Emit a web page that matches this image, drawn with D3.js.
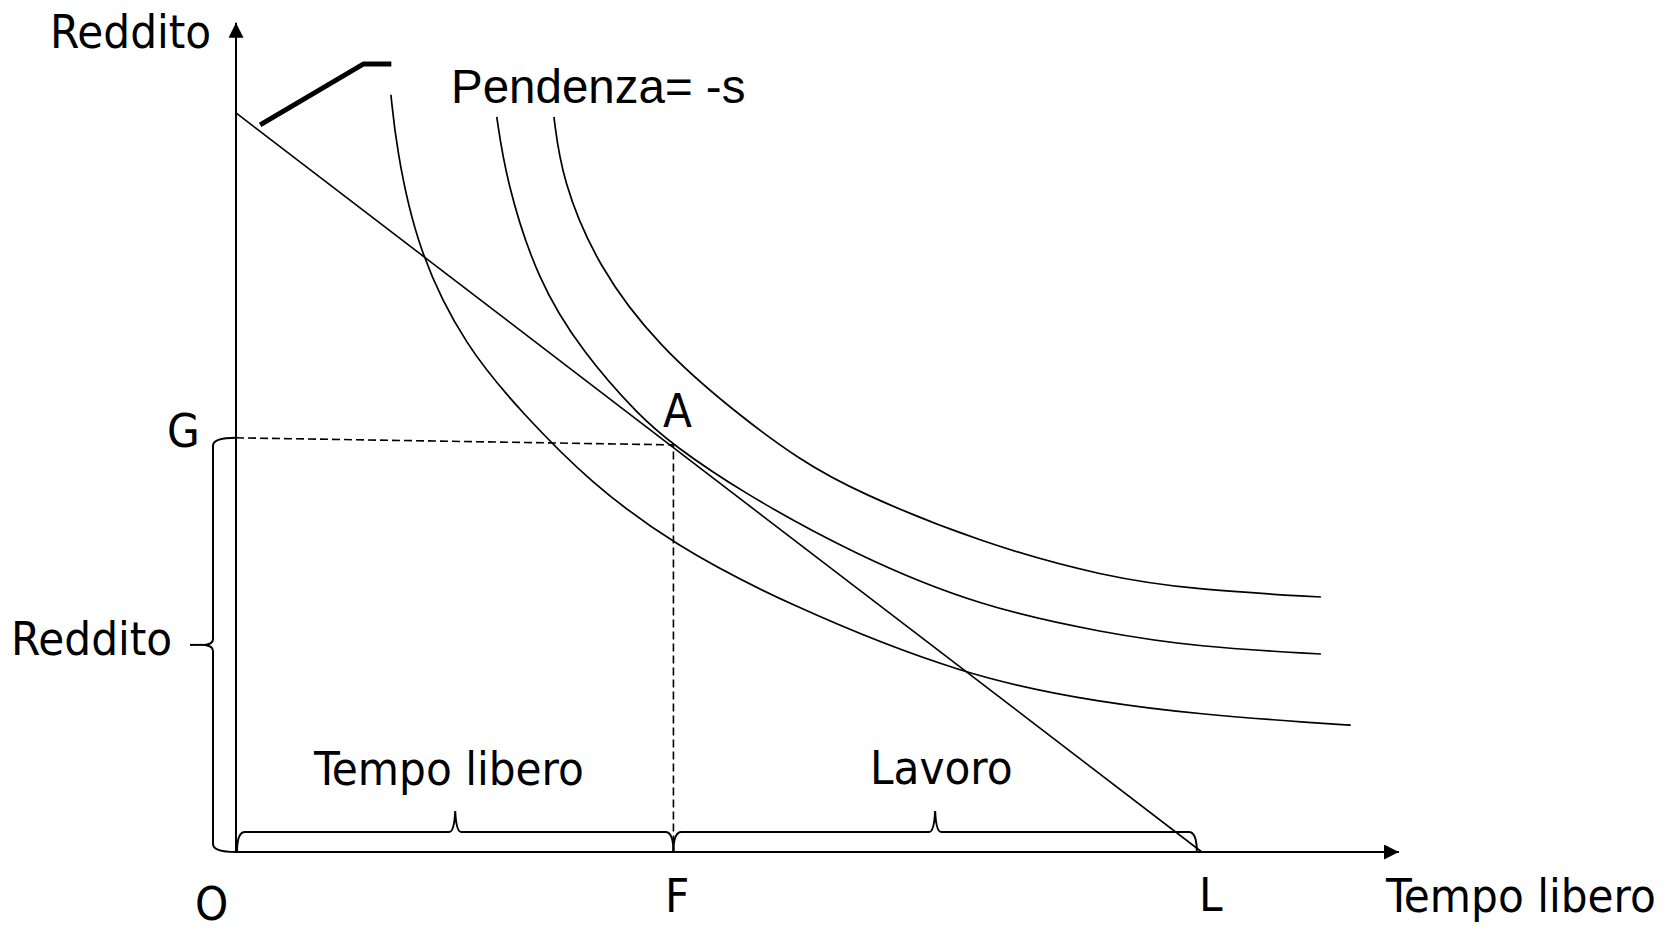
<!DOCTYPE html>
<html>
<head>
<meta charset="utf-8">
<script src="https://cdn.jsdelivr.net/npm/d3@7"></script>
<style>
  body { margin: 0; background: #fff; }
  svg { display: block; }
  .lbl { font-family: "DejaVu Sans Condensed", "DejaVu Sans", sans-serif; font-stretch: condensed; font-size: 47px; fill: #000; }
  .slope { font-family: "Liberation Sans", Arial, sans-serif; font-size: 47.5px; fill: #000; }
</style>
</head>
<body>
<svg id="chart" width="1669" height="930"></svg>
<script>
// leisure (hours) on x, income on y
const totalTime = 24;   // L
const wage = 10;        // s, slope of the budget line is -s
const pointA = { x: 10.87, y: 132.2 };
const gLevel = 134.5;   // where the dashed line meets the income axis

// indifference curves [leisure, income]
const curveLow = [
  [3.85, 245.9], [3.98, 229.0], [4.50, 195.5], [5.70, 164.0], [7.15, 142.0],
  [8.80, 120.0], [10.87, 99.8], [13.61, 80.8], [18.16, 56.6], [21.59, 48.4],
  [23.88, 44.8], [26.93, 41.8], [27.70, 41.2]
];
const curveMid = [
  [6.48, 238.7], [6.71, 218.3], [7.48, 185.8], [8.62, 162.1], [10.04, 141.3],
  [10.87, 132.2], [12.47, 117.6], [15.43, 96.1], [18.51, 79.6], [21.59, 71.1],
  [23.88, 66.6], [26.96, 64.3]
];
const curveHigh = [
  [7.90, 238.7], [8.10, 218.3], [8.99, 190.0], [10.51, 164.0], [12.42, 142.6],
  [14.01, 127.3], [15.43, 116.9], [18.51, 100.4], [21.59, 89.3], [23.88, 85.1],
  [26.96, 82.8]
];
// pointer from the budget line to the slope label
const slopePointer = [[0.6, 236.1], [3.17, 255.9], [3.86, 255.9]];

const xMax = 28.9, yMax = 269.3;

const svg = d3.select('#chart');

const x = d3.scaleLinear().domain([0, xMax]).range([236, 1399]);
const y = d3.scaleLinear().domain([0, yMax]).range([852, 22.7]);

// arrow heads
svg.append('defs').append('marker')
    .attr('id', 'arrow')
    .attr('viewBox', '0 0 15 15')
    .attr('refX', 15).attr('refY', 7.5)
    .attr('markerWidth', 15).attr('markerHeight', 15)
    .attr('markerUnits', 'userSpaceOnUse')
    .attr('orient', 'auto')
  .append('path')
    .attr('d', 'M0,0 L15,7.5 L0,15 Z')
    .attr('fill', '#000');

// axes
svg.append('line')
    .attr('x1', x(0)).attr('y1', y(0))
    .attr('x2', x(0)).attr('y2', y(yMax))
    .attr('stroke', '#000').attr('stroke-width', 2)
    .attr('marker-end', 'url(#arrow)');
svg.append('line')
    .attr('x1', x(0)).attr('y1', y(0))
    .attr('x2', x(xMax)).attr('y2', y(0))
    .attr('stroke', '#000').attr('stroke-width', 2)
    .attr('marker-end', 'url(#arrow)');

const line = d3.line()
    .x(d => x(d[0]))
    .y(d => y(d[1]))
    .curve(d3.curveBasis);

// budget line
svg.append('path')
    .attr('d', d3.line().x(d => x(d[0])).y(d => y(d[1]))([[0, wage * totalTime], [totalTime, 0]]))
    .attr('fill', 'none').attr('stroke', '#000').attr('stroke-width', 1.6);

// indifference curves
svg.selectAll('.ic').data([curveLow, curveMid, curveHigh])
  .join('path')
    .attr('class', 'ic')
    .attr('d', line)
    .attr('fill', 'none')
    .attr('stroke', '#000')
    .attr('stroke-width', 1.7);

// dashed guides to A
svg.append('path')
    .attr('d', `M${x(0)},${y(gLevel)} L${x(pointA.x)},${y(pointA.y)} L${x(pointA.x)},${y(0)}`)
    .attr('fill', 'none').attr('stroke', '#000').attr('stroke-width', 1.6)
    .attr('stroke-dasharray', '8,4');

// pointer
svg.append('path')
    .attr('d', d3.line().x(d => x(d[0])).y(d => y(d[1]))(slopePointer))
    .attr('fill', 'none').attr('stroke', '#000').attr('stroke-width', 5);

// braces
const hBrace = (x0, x1, yb) => {
  const yt = yb - 20, xm = (x0 + x1) / 2;
  return `M${x0},${yb} Q${x0},${yt} ${x0 + 8},${yt} L${xm - 6},${yt} ` +
    `Q${xm - 1},${yt} ${xm},${yt - 21} Q${xm + 1},${yt} ${xm + 6},${yt} ` +
    `L${x1 - 8},${yt} Q${x1},${yt} ${x1},${yb}`;
};
const vBrace = (y0, y1, xb) => {
  const xl = xb - 23, ym = (y0 + y1) / 2;
  return `M${xb},${y0} Q${xl},${y0} ${xl},${y0 + 8} L${xl},${ym - 6} ` +
    `Q${xl},${ym - 1} ${xl - 8},${ym} Q${xl},${ym + 1} ${xl},${ym + 6} ` +
    `L${xl},${y1 - 8} Q${xl},${y1} ${xb},${y1}`;
};
const braceG = svg.append('g')
    .attr('fill', 'none').attr('stroke', '#000').attr('stroke-width', 2);
braceG.append('path').attr('d', hBrace(x(0) + 1, x(pointA.x), y(0)));
braceG.append('path').attr('d', hBrace(x(pointA.x), x(totalTime) - 5, y(0)));
braceG.append('path').attr('d', vBrace(y(gLevel), y(0), x(0)));
braceG.append('line')
    .attr('x1', 190).attr('x2', x(0) - 31)
    .attr('y1', (y(gLevel) + y(0)) / 2).attr('y2', (y(gLevel) + y(0)) / 2);

// labels
const labels = [
  { t: 'Reddito', x: 50, y: 48 },
  { t: 'G', x: 167, y: 447 },
  { t: 'A', x: 663, y: 427 },
  { t: 'Reddito', x: 11, y: 655 },
  { t: 'Tempo libero', x: 314, y: 785 },
  { t: 'Lavoro', x: 870, y: 784 },
  { t: 'O', x: 195, y: 920 },
  { t: 'F', x: 665, y: 912 },
  { t: 'L', x: 1199, y: 911 },
  { t: 'Tempo libero', x: 1386, y: 912 }
];
svg.selectAll('.lbl').data(labels)
  .join('text')
    .attr('class', 'lbl')
    .attr('x', d => d.x)
    .attr('y', d => d.y)
    .text(d => d.t);

svg.append('text')
    .attr('class', 'slope')
    .attr('x', 451).attr('y', 103)
    .text('Pendenza= -s');
</script>
</body>
</html>
